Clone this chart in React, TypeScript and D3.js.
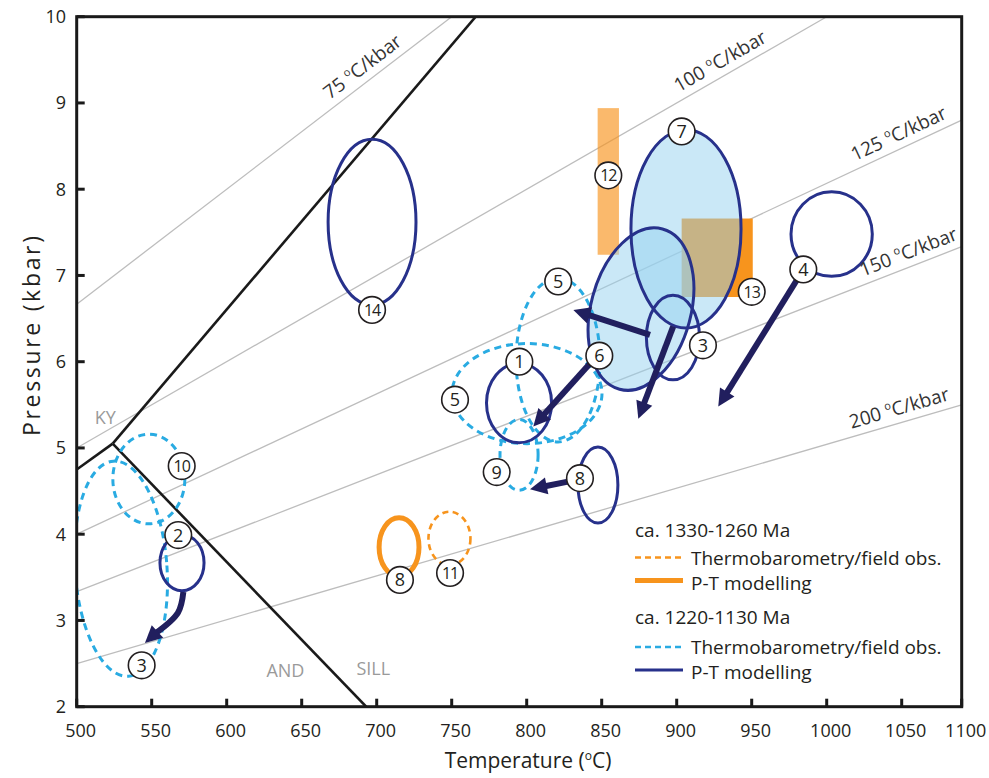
import React from 'react';
import * as d3 from 'd3';

const W = 989, H = 778;
const PX0 = 76.7, PX1 = 961.7, PY0 = 706.7, PY1 = 16.7;

const xTickValues = [500, 550, 600, 650, 700, 750, 800, 850, 900, 950, 1000, 1050, 1100];
const yTickValues = [2, 3, 4, 5, 6, 7, 8, 9, 10];
const geoGradients = [75, 100, 125, 150, 200];
const geoLabelTemps = [672, 904, 1021, 1026, 1018];

const kyAndBoundary: [number, number][] = [[500, 4.75], [524, 5.05]];
const kySillBoundary: [number, number][] = [[524, 5.05], [766, 10]];
const andSillBoundary: [number, number][] = [[524, 5.05], [693, 2]];
const fieldNames = [
  { text: 'KY', T: 512, P: 5.28 },
  { text: 'AND', T: 626.5, P: 2.35 },
  { text: 'SILL', T: 686.5, P: 2.37 },
];

// ca. 1330-1260 Ma P-T modelling boxes
const box13 = { tMin: 903.3, tMax: 950.7, pMin: 6.75, pMax: 7.66 };
const box12 = { tMin: 847.3, tMax: 861.5, pMin: 7.24, pMax: 8.94 };

// ca. 1220-1130 Ma P-T modelling, shaded fields
const ptShaded = [
  { T: 906.2, P: 7.54, rT: 36.7, rP: 1.15, rot: 0 },
  { T: 876.2, P: 6.61, rT: 33.3, rP: 0.962, rot: 15 },
];
// ca. 1220-1130 Ma P-T modelling, outlines
const ptOutlines = [
  { T: 696.9, P: 7.62, rT: 29.3, rP: 0.96, rot: 0 },
  { T: 897.5, P: 6.28, rT: 17.7, rP: 0.49, rot: 0 },
  { T: 1003.3, P: 7.48, rT: 27.1, rP: 0.49, rot: 0 },
  { T: 794.9, P: 5.52, rT: 21.7, rP: 0.46, rot: 0 },
  { T: 847.5, P: 4.57, rT: 13.3, rP: 0.44, rot: 0 },
  { T: 570.2, P: 3.67, rT: 14.7, rP: 0.325, rot: 0 },
];
// ca. 1220-1130 Ma thermobarometry / field obs.
const tbYoung = [
  { T: 548.1, P: 4.64, rT: 24, rP: 0.52, rot: 0 },
  { T: 529.5, P: 3.6, rT: 30.7, rP: 1.25, rot: -4 },
  { T: 820.9, P: 6.02, rT: 28, rP: 0.95, rot: 0 },
  { T: 800.2, P: 5.63, rT: 50, rP: 0.58, rot: 0 },
  { T: 794.9, P: 4.92, rT: 12.7, rP: 0.41, rot: 0 },
];
// ca. 1330-1260 Ma thermobarometry / field obs.
const tbOld = [{ T: 748.5, P: 3.95, rT: 14, rP: 0.31, rot: 0 }];
// ca. 1330-1260 Ma P-T modelling
const ptOld = [{ T: 714.9, P: 3.85, rT: 13.3, rP: 0.34, rot: 0 }];

const ptPaths: [number, number][][] = [
  [[882.2, 6.31], [831.1, 6.6]],
  [[897.7, 6.41], [874.4, 5.34]],
  [[842.2, 5.98], [804.4, 5.25]],
  [[980.2, 6.95], [927.7, 5.48]],
  [[827.5, 4.61], [802.2, 4.52]],
  [[571.1, 3.33], [567.5, 3.09], [545.5, 2.74]],
];

const siteLabels = [
  { n: '14', T: 696.9, P: 6.6 },
  { n: '7', T: 903.3, P: 8.67 },
  { n: '12', T: 854.4, P: 8.16 },
  { n: '13', T: 950, P: 6.81 },
  { n: '4', T: 984.4, P: 7.07 },
  { n: '3', T: 917.5, P: 6.19 },
  { n: '5', T: 821, P: 6.93 },
  { n: '6', T: 848.4, P: 6.07 },
  { n: '1', T: 795.1, P: 6.0 },
  { n: '5', T: 752.2, P: 5.56 },
  { n: '9', T: 780, P: 4.72 },
  { n: '8', T: 835.5, P: 4.65 },
  { n: '10', T: 570, P: 4.79 },
  { n: '2', T: 567.7, P: 3.99 },
  { n: '3', T: 543.3, P: 2.48 },
  { n: '8', T: 715.5, P: 3.47 },
  { n: '11', T: 748.9, P: 3.55 },
];

const legendGroups = ['ca. 1330-1260 Ma', 'ca. 1220-1130 Ma'];
const legendItems = ['Thermobarometry/field obs.', 'P-T modelling'];

const NAVY = '#27318b';
const ARROW = '#211f5e';
const CYAN = '#29abe2';
const ORANGE = '#f7941d';
const FONT = "'Open Sans', sans-serif";
const TXT = '#231f20';

const x = d3.scaleLinear().domain([500, 1050, 1100]).range([PX0, 901.7, PX1]);
const y = d3.scaleLinear().domain([2, 10]).range([PY0, PY1]);

type Ell = { T: number; P: number; rT: number; rP: number; rot: number };
function ellAttrs(e: Ell) {
  const cx = x(e.T), cy = y(e.P);
  return {
    cx, cy,
    rx: x(e.T + e.rT) - cx,
    ry: y(e.P) - y(e.P + e.rP),
    transform: `rotate(${e.rot},${cx},${cy})`,
  };
}

function Arrow({ pts }: { pts: [number, number][] }) {
  const px = pts.map(([t, p]) => [x(t), y(p)] as [number, number]);
  const tip = px[px.length - 1];
  const prev = px[px.length - 2];
  const dx = tip[0] - prev[0], dy = tip[1] - prev[1];
  const len = Math.hypot(dx, dy);
  const ux = dx / len, uy = dy / len;
  const L = 17, w = 8.5;
  const bx = tip[0] - ux * L, by = tip[1] - uy * L;
  const shaft = px.slice(0, -1).concat([[tip[0] - ux * (L - 3), tip[1] - uy * (L - 3)]]);
  const line = d3.line().curve(px.length > 2 ? d3.curveCatmullRom : d3.curveLinear);
  return (
    <g>
      <path d={line(shaft) || ''} fill="none" stroke={ARROW} strokeWidth={6} />
      <polygon
        points={`${tip[0]},${tip[1]} ${bx - uy * w},${by + ux * w} ${bx + uy * w},${by - ux * w}`}
        fill={ARROW}
      />
    </g>
  );
}

export default function App() {
  const lineGen = d3.line<[number, number]>().x((d) => x(d[0])).y((d) => y(d[1]));

  const geos = geoGradients.map((g, i) => {
    const t1 = Math.min(1100, 10 * g);
    const p0: [number, number] = [x(500), y(500 / g)];
    const p1: [number, number] = [x(t1), y(t1 / g)];
    const slope = (p1[1] - p0[1]) / (p1[0] - p0[0]);
    const lx = x(geoLabelTemps[i]);
    const ly = p0[1] + (lx - p0[0]) * slope;
    const ang = (Math.atan(slope) * 180) / Math.PI;
    const a = Math.atan(slope);
    const off = 8;
    return { g, p0, p1, lx: lx + Math.sin(a) * off, ly: ly - Math.cos(a) * off, ang };
  });

  return (
    <svg width={W} height={H} style={{ position: 'absolute', left: 0, top: 0, background: '#fff' }} fontFamily={FONT}>
      <defs>
        <clipPath id="plot">
          <rect x={PX0} y={PY1} width={PX1 - PX0} height={PY0 - PY1} />
        </clipPath>
      </defs>
      <rect width={W} height={H} fill="#fff" />
      <g clipPath="url(#plot)">
        {geos.map((d) => (
          <line key={d.g} x1={d.p0[0]} y1={d.p0[1]} x2={d.p1[0]} y2={d.p1[1]} stroke="#bdbdbd" strokeWidth={1.3} />
        ))}
        {[kyAndBoundary, kySillBoundary, andSillBoundary].map((b, i) => (
          <path key={i} d={lineGen(b) || ''} stroke="#1a1a1a" strokeWidth={2.6} fill="none" />
        ))}
        <rect x={x(box13.tMin)} y={y(box13.pMax)} width={x(box13.tMax) - x(box13.tMin)} height={y(box13.pMin) - y(box13.pMax)} fill={ORANGE} />
        <rect x={x(box12.tMin)} y={y(box12.pMax)} width={x(box12.tMax) - x(box12.tMin)} height={y(box12.pMin) - y(box12.pMax)} fill={ORANGE} fillOpacity={0.65} />
        {ptShaded.map((e, i) => (
          <ellipse key={'sf' + i} {...ellAttrs(e)} fill="rgb(150,210,240)" fillOpacity={0.5} stroke="none" />
        ))}
        {tbYoung.map((e, i) => (
          <ellipse key={'ty' + i} {...ellAttrs(e)} fill="none" stroke={CYAN} strokeWidth={3} strokeDasharray="7,5" />
        ))}
        {tbOld.map((e, i) => (
          <ellipse key={'to' + i} {...ellAttrs(e)} fill="none" stroke={ORANGE} strokeWidth={2.6} strokeDasharray="6,4.5" />
        ))}
        {ptOld.map((e, i) => (
          <ellipse key={'po' + i} {...ellAttrs(e)} fill="none" stroke={ORANGE} strokeWidth={5} />
        ))}
        {ptShaded.map((e, i) => (
          <ellipse key={'ss' + i} {...ellAttrs(e)} fill="none" stroke={NAVY} strokeWidth={3} />
        ))}
        {ptOutlines.map((e, i) => (
          <ellipse key={'pe' + i} {...ellAttrs(e)} fill="none" stroke={NAVY} strokeWidth={3} />
        ))}
        {ptPaths.map((p, i) => (
          <Arrow key={'a' + i} pts={p} />
        ))}
      </g>
      {geos.map((d) => (
        <text key={'gl' + d.g} x={d.lx} y={d.ly} transform={`rotate(${d.ang},${d.lx},${d.ly})`} fontSize={19} fill="#333">
          {d.g} <tspan fontSize={11} dy={-8}>o</tspan><tspan dy={8}>C/kbar</tspan>
        </text>
      ))}
      {fieldNames.map((f) => (
        <text key={f.text} x={x(f.T)} y={y(f.P)} fontSize={18} fill="#9a9a9a">{f.text}</text>
      ))}
      {siteLabels.map((s, i) => (
        <g key={'sl' + i}>
          <circle cx={x(s.T)} cy={y(s.P)} r={13.3} fill="#fff" stroke={TXT} strokeWidth={1.6} />
          <text x={x(s.T)} y={y(s.P)} dy="0.36em" textAnchor="middle" fontSize={s.n.length > 1 ? 16 : 18} fill={TXT}
            letterSpacing={s.n.length > 1 ? -1 : 0}>{s.n}</text>
        </g>
      ))}
      {/* legend */}
      <g fontSize={19} fill={TXT}>
        <text x={635} y={537}>{legendGroups[0]}</text>
        <line x1={635} x2={683} y1={557.5} y2={557.5} stroke={ORANGE} strokeWidth={2.6} strokeDasharray="6,4" />
        <text x={691} y={564.5}>{legendItems[0]}</text>
        <line x1={635} x2={683} y1={580.5} y2={580.5} stroke={ORANGE} strokeWidth={5} />
        <text x={691} y={589.5}>{legendItems[1]}</text>
        <text x={635} y={624}>{legendGroups[1]}</text>
        <line x1={635} x2={683} y1={647} y2={647} stroke={CYAN} strokeWidth={2.6} strokeDasharray="6,4" />
        <text x={691} y={653.5}>{legendItems[0]}</text>
        <line x1={635} x2={683} y1={670} y2={670} stroke={NAVY} strokeWidth={3} />
        <text x={691} y={679}>{legendItems[1]}</text>
      </g>
      {/* frame and ticks */}
      <rect x={PX0} y={PY1} width={PX1 - PX0} height={PY0 - PY1} fill="none" stroke="#1a1a1a" strokeWidth={3} />
      {xTickValues.map((t) => (
        <g key={'xt' + t}>
          <line x1={x(t)} x2={x(t)} y1={PY0} y2={PY0 - 8} stroke="#1a1a1a" strokeWidth={3} />
          <text x={x(t) + 4} y={737} textAnchor="middle" fontSize={18} fill={TXT}>{t}</text>
        </g>
      ))}
      {yTickValues.map((p) => (
        <g key={'yt' + p}>
          <line x1={PX0} x2={PX0 + 8} y1={y(p)} y2={y(p)} stroke="#1a1a1a" strokeWidth={3} />
          <text x={66} y={y(p)} dy="0.36em" textAnchor="end" fontSize={18} fill={TXT}>{p}</text>
        </g>
      ))}
      <text x={528} y={768} textAnchor="middle" fontSize={21} fill={TXT}>
        Temperature (<tspan fontSize={12} dy={-8}>o</tspan><tspan dy={8}>C)</tspan>
      </text>
      <text transform={`translate(40,${336}) rotate(-90)`} textAnchor="middle" fontSize={23} fill={TXT}
        textLength={200} lengthAdjust="spacing">Pressure (kbar)</text>
    </svg>
  );
}
